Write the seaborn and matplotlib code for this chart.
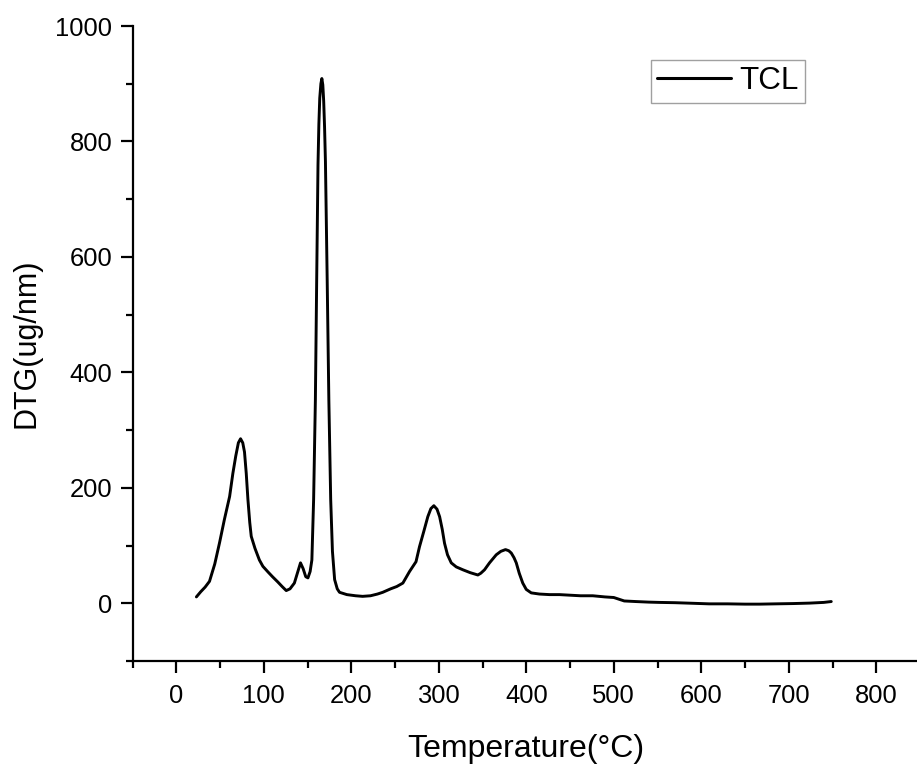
import matplotlib
matplotlib.use("Agg")
import matplotlib.pyplot as plt
import seaborn as sns
import pandas as pd
from matplotlib.ticker import MultipleLocator

temperature = [23, 28, 33, 38, 44, 49.5, 55, 61, 64.7, 68, 71, 73.5, 76, 78, 80, 81.9, 84, 85.7,
               90, 95, 99, 105, 110, 116, 121, 125.7, 130, 135, 139, 142, 145, 148, 150.5, 153,
               155, 157, 159, 160.5, 162, 163, 164, 165.3, 166.4, 167.5, 168.5, 169.5, 170.5,
               172.5, 174.4, 176.5, 178.5,
               181, 184, 186.6, 195, 205, 213, 222, 230, 236, 245, 252, 259, 266.6, 274, 278,
               283, 287.5, 291, 294.4, 298, 301, 304, 306.6, 310, 314.3, 320, 327.6, 336, 344.7,
               348, 352.3, 358, 365.7, 371, 376.3, 380, 382.9, 386, 388.6, 392, 396, 400, 405.7,
               415, 426.6, 438, 450, 462, 476, 490, 500, 506, 512, 525, 540, 552, 570, 590, 609,
               630, 650, 667, 685, 705, 724, 740, 748.6]
dtg = [11, 20, 28, 38, 68, 105, 145, 185, 225, 255, 278, 285, 278, 262, 225, 180, 140, 116,
       95, 75, 64, 54, 46, 37, 29, 22, 25, 35, 55, 70, 60, 46, 44, 55,
       75, 180, 352, 560, 760, 830, 875, 900, 909, 898, 870, 825, 765,
       560, 352, 180, 90,
       41, 25, 19, 15, 13, 12, 13, 16, 19, 25, 29, 35, 55, 72, 98,
       125, 150, 164, 169, 163, 150, 128, 104, 84, 70, 63, 58, 53, 49,
       52, 58, 70, 84, 90, 93, 91, 87, 79, 70, 52, 35, 24, 18,
       16, 15, 15, 14, 13, 13, 11, 10, 7, 4, 3, 2, 1.5, 1, 0, -1,
       -1, -1.5, -1.5, -1, -0.5, 0.3, 1.5, 3]
series_label = "TCL"
x_ticks = [0, 100, 200, 300, 400, 500, 600, 700, 800]
y_ticks = [0, 200, 400, 600, 800, 1000]

df = pd.DataFrame({"Temperature": temperature, "DTG": dtg, "series": series_label})

sns.set_style("ticks")
plt.rcParams["font.family"] = ["Liberation Sans", "DejaVu Sans"]
plt.rcParams["text.color"] = "black"
plt.rcParams["axes.labelcolor"] = "black"

fig = plt.figure(figsize=(9.17, 7.66), dpi=100)
ax = fig.add_axes([132.5 / 917, 1 - 661 / 766, (920 - 132.5) / 917, (661 - 26) / 766])

sns.lineplot(data=df, x="Temperature", y="DTG", hue="series", palette=["black"],
             linewidth=2.1, ax=ax, sort=False, estimator=None)

ax.set_xlim(-50, 850)
ax.set_ylim(-100, 1000)
ax.set_xticks(x_ticks)
ax.set_yticks(y_ticks)
ax.xaxis.set_minor_locator(MultipleLocator(50))
ax.yaxis.set_minor_locator(MultipleLocator(100))

for s in ["top", "right"]:
    ax.spines[s].set_visible(False)
for s in ["left", "bottom"]:
    ax.spines[s].set_linewidth(1.6)
    ax.spines[s].set_color("black")

ax.tick_params(which="major", direction="out", length=8.6, width=1.6, labelsize=18.4,
               colors="black")
ax.tick_params(axis="x", which="major", pad=8)
ax.tick_params(axis="y", which="major", pad=6)
ax.tick_params(which="minor", direction="out", length=4.7, width=1.6, colors="black")

ax.set_xlabel("Temperature(°C)", fontsize=23, labelpad=19, color="black")
ax.set_ylabel("DTG(ug/nm)", fontsize=22, labelpad=10, color="black")

leg = ax.legend(loc="upper left", bbox_to_anchor=(650.7 / 917, 1 - 60 / 766),
                bbox_transform=fig.transFigure, borderaxespad=0, fontsize=22.6,
                handlelength=2.35, handletextpad=0.28, borderpad=0.2, fancybox=False,
                frameon=True)
leg.get_frame().set_edgecolor("#888888")
leg.get_frame().set_linewidth(1.0)
for line in leg.get_lines():
    line.set_linewidth(2.2)
for t in leg.get_texts():
    t.set_color("black")

fig.savefig("out.png", dpi=100)
